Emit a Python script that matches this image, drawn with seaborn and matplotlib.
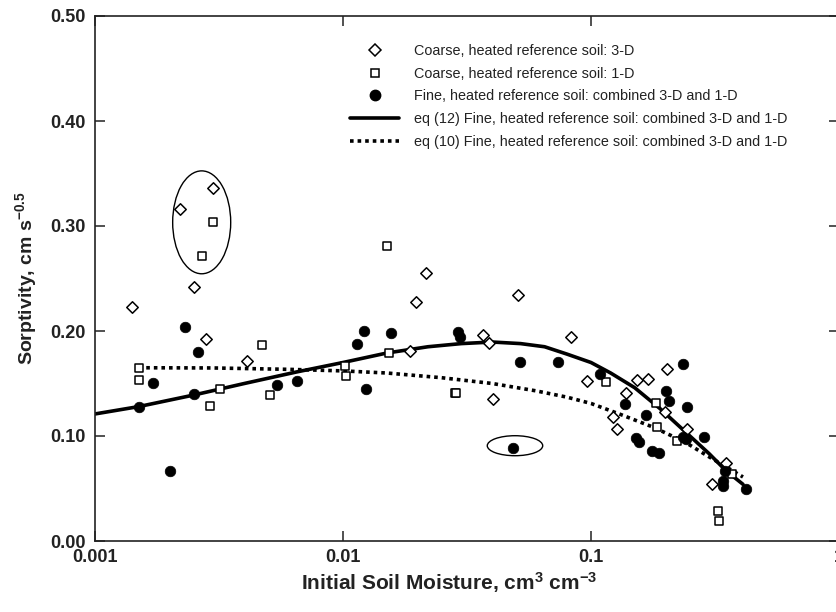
import numpy as np
import pandas as pd
import matplotlib
matplotlib.use("Agg")
import matplotlib.pyplot as plt
from matplotlib.lines import Line2D
from matplotlib.patches import Ellipse
from matplotlib.ticker import FixedLocator, FixedFormatter
import seaborn as sns

# ---------------- data ----------------
coarse3d_x = [0.00299, 0.0022, 0.00251, 0.001406, 0.00281, 0.0041, 0.0217, 0.0197,
              0.0508, 0.0366, 0.0388, 0.083, 0.0187, 0.0404, 0.0966, 0.1528, 0.169,
              0.203, 0.1384, 0.198, 0.123, 0.1277, 0.243, 0.349, 0.307]
coarse3d_y = [0.336, 0.316, 0.242, 0.223, 0.192, 0.171, 0.2555, 0.228,
              0.234, 0.196, 0.189, 0.194, 0.181, 0.1355, 0.1524, 0.1533, 0.1546,
              0.1635, 0.1413, 0.1232, 0.1178, 0.1067, 0.1067, 0.0746, 0.0543]

coarse1d_x = [0.0030, 0.00271, 0.0047, 0.001504, 0.001504, 0.0032, 0.0051, 0.00291,
              0.0150, 0.0153, 0.01016, 0.01026, 0.0282, 0.0286, 0.1146, 0.1834,
              0.1846, 0.222, 0.371, 0.326, 0.329]
coarse1d_y = [0.304, 0.271, 0.1867, 0.1648, 0.1533, 0.1445, 0.1394, 0.1286,
              0.281, 0.179, 0.1667, 0.1574, 0.1413, 0.1405, 0.151, 0.1311,
              0.1089, 0.0949, 0.0638, 0.0286, 0.0188]

fine_x = [0.0023, 0.00261, 0.001708, 0.0054, 0.0065, 0.0025, 0.0015, 0.002,
          0.01212, 0.01567, 0.01142, 0.0124, 0.029, 0.0296, 0.0519, 0.0736,
          0.0483, 0.1087, 0.235, 0.137, 0.201, 0.2065, 0.2445, 0.1667, 0.152,
          0.156, 0.176, 0.1875, 0.2356, 0.2415, 0.286, 0.346, 0.342, 0.342, 0.423]
fine_y = [0.2041, 0.18, 0.1505, 0.1486, 0.152, 0.1397, 0.1276, 0.0667,
          0.1997, 0.1984, 0.1876, 0.145, 0.1987, 0.1946, 0.1708, 0.1705,
          0.0889, 0.159, 0.1683, 0.1305, 0.1432, 0.133, 0.1273, 0.1197, 0.0978,
          0.094, 0.086, 0.0835, 0.0988, 0.0971, 0.0988, 0.0667, 0.0571, 0.0524, 0.0492]

eq12_x = [0.001, 0.0015, 0.0025, 0.004, 0.0065, 0.01, 0.015, 0.022, 0.03, 0.04,
          0.052, 0.065, 0.08, 0.1, 0.12, 0.15, 0.19, 0.24, 0.30, 0.35, 0.41]
eq12_y = [0.121, 0.128, 0.139, 0.150, 0.161, 0.170, 0.179, 0.185, 0.188, 0.1895,
          0.188, 0.185, 0.178, 0.170, 0.160, 0.146, 0.126, 0.104, 0.083, 0.067, 0.054]

eq10_x = [0.0015, 0.003, 0.006, 0.01, 0.015, 0.025, 0.04, 0.06, 0.08, 0.1,
          0.13, 0.18, 0.24, 0.30, 0.36, 0.41]
eq10_y = [0.165, 0.1648, 0.1635, 0.162, 0.160, 0.1555, 0.150, 0.143, 0.137, 0.131,
          0.121, 0.108, 0.094, 0.080, 0.069, 0.061]

x_ticks = [0.001, 0.01, 0.1, 1]
x_ticklabels = ["0.001", "0.01", "0.1", "1"]
y_ticks = [0.0, 0.1, 0.2, 0.3, 0.4, 0.5]
y_ticklabels = ["0.00", "0.10", "0.20", "0.30", "0.40", "0.50"]

labels = ["Coarse, heated reference soil: 3-D",
          "Coarse, heated reference soil: 1-D",
          "Fine, heated reference soil: combined 3-D and 1-D",
          "eq (12) Fine, heated reference soil: combined 3-D and 1-D",
          "eq (10) Fine, heated reference soil: combined 3-D and 1-D"]

# ---------------- plotting ----------------
sns.set_style("ticks")
plt.rcParams['font.family'] = ['Liberation Sans', 'DejaVu Sans']
plt.rcParams['mathtext.fontset'] = 'custom'
plt.rcParams['mathtext.rm'] = 'Liberation Sans:bold'
plt.rcParams['mathtext.it'] = 'Liberation Sans:bold'
plt.rcParams['mathtext.bf'] = 'Liberation Sans:bold'

W, H = 837, 612
fig = plt.figure(figsize=(W / 100, H / 100), dpi=100)
ax = fig.add_axes([95 / W, 1 - 541 / H, (839 - 95) / W, (541 - 16) / H])

df12 = pd.DataFrame({"x": eq12_x, "y": eq12_y})
df10 = pd.DataFrame({"x": eq10_x, "y": eq10_y})
sns.lineplot(data=df12, x="x", y="y", ax=ax, color="black", lw=2.6,
             sort=False, estimator=None, legend=False, zorder=2)
sns.lineplot(data=df10, x="x", y="y", ax=ax, color="black", lw=2.6,
             sort=False, estimator=None, legend=False, zorder=2,
             linestyle=(0, (1.0, 1.1)))

d3 = pd.DataFrame({"x": coarse3d_x, "y": coarse3d_y})
d1 = pd.DataFrame({"x": coarse1d_x, "y": coarse1d_y})
dfn = pd.DataFrame({"x": fine_x, "y": fine_y})
sns.scatterplot(data=d3, x="x", y="y", ax=ax, marker="D", s=34,
                facecolor="white", edgecolor="black", linewidth=1.1, zorder=3)
sns.scatterplot(data=d1, x="x", y="y", ax=ax, marker="s", s=38,
                facecolor="white", edgecolor="black", linewidth=1.1, zorder=3)
sns.scatterplot(data=dfn, x="x", y="y", ax=ax, marker="o", s=58,
                color="black", edgecolor="black", linewidth=0.5, zorder=4)

ax.set_xscale("log")
ax.set_xlim(0.001, 1)
ax.set_ylim(0, 0.5)
ax.xaxis.set_major_locator(FixedLocator(x_ticks))
ax.xaxis.set_major_formatter(FixedFormatter(x_ticklabels))
ax.xaxis.set_minor_locator(FixedLocator([]))
ax.yaxis.set_major_locator(FixedLocator(y_ticks))
ax.yaxis.set_major_formatter(FixedFormatter(y_ticklabels))

for sp in ax.spines.values():
    sp.set_visible(True)
    sp.set_linewidth(1.2)
    sp.set_color("#222222")
ax.tick_params(axis="both", which="major", direction="in", length=7.5, width=1.1,
               top=True, right=True, labelsize=13, color="#222222")
ax.tick_params(axis="y", pad=7)
ax.tick_params(axis="x", pad=6)
for lab in ax.get_xticklabels() + ax.get_yticklabels():
    lab.set_fontweight("bold")
    lab.set_color("#222222")

ax.set_xlabel("Initial Soil Moisture, cm$^{3}$ cm$^{-3}$", fontsize=15,
              fontweight="bold", color="#222222")
ax.set_ylabel("Sorptivity, cm s$^{-0.5}$", fontsize=14, fontweight="bold",
              color="#222222")
ax.xaxis.set_label_coords((449 - 95) / 744, -(29) / 525)
ax.yaxis.set_label_coords(-(95 - 39) / 744, 0.5)

# ellipses (annotations, in axes coordinates)
ax.add_patch(Ellipse((0.1434, 0.607), 0.078, 0.196, transform=ax.transAxes,
                     fill=False, edgecolor="black", lw=1.0, zorder=5))
ax.add_patch(Ellipse((0.5645, 0.1815), 0.0745, 0.0381, transform=ax.transAxes,
                     fill=False, edgecolor="black", lw=1.0, zorder=5))

handles = [
    Line2D([], [], ls="none", marker="D", ms=6.0, mfc="white", mec="black", mew=1.1),
    Line2D([], [], ls="none", marker="s", ms=6.0, mfc="white", mec="black", mew=1.1),
    Line2D([], [], ls="none", marker="o", ms=7.5, mfc="black", mec="black"),
    Line2D([], [], color="black", lw=2.6),
    Line2D([], [], color="black", lw=2.6, ls=(0, (1.0, 1.1))),
]
leg = fig.legend(handles, labels, loc="upper left", bbox_to_anchor=(350 / W, 1 - 44 / H),
                 frameon=False, fontsize=10.4, handlelength=3.4, handletextpad=1.0,
                 labelspacing=0.6, borderpad=0, borderaxespad=0)
for t in leg.get_texts():
    t.set_color("#222222")

fig.savefig("out.png", dpi=100)
